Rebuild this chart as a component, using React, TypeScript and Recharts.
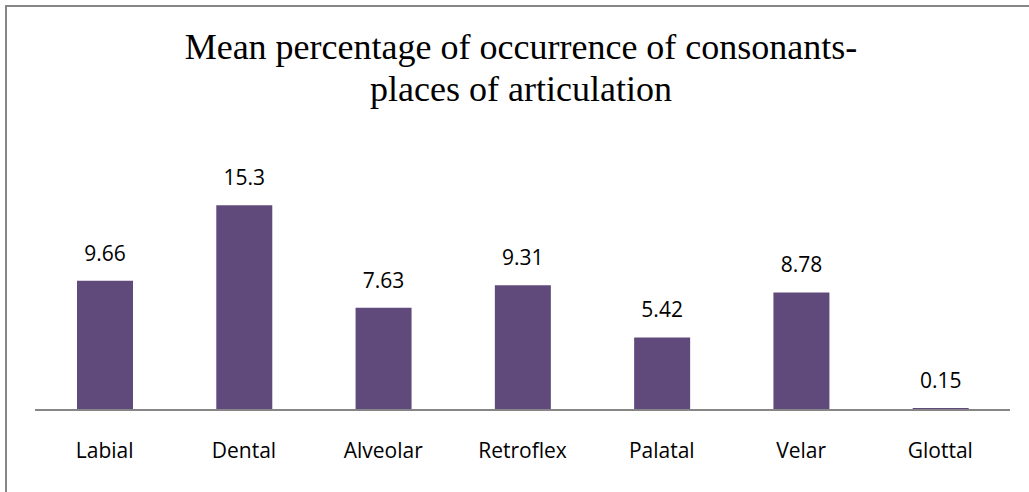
import React from "react";
import { BarChart, Bar, XAxis, YAxis, LabelList } from "recharts";

const categories = ["Labial", "Dental", "Alveolar", "Retroflex", "Palatal", "Velar", "Glottal"];
const values = [9.66, 15.3, 7.63, 9.31, 5.42, 8.78, 0.15];
const titleLines = ["Mean percentage of occurrence of consonants-", "places of articulation"];

const data = categories.map((c, i) => ({ name: c, value: values[i] }));

const CatTick = (props: any) => {
  const { x, y, payload } = props;
  return (
    <text x={x} y={y + 40} textAnchor="middle" fontFamily="'Open Sans', sans-serif" fontSize={21} fill="#000">
      {payload.value}
    </text>
  );
};

export default function App() {
  return (
    <div style={{ position: "absolute", left: 0, top: 0, width: 1029, height: 492, overflow: "hidden", background: "#fff" }}>
      <div style={{ position: "absolute", left: 5, top: 5, width: 1100, height: 600, border: "2px solid #878787", boxSizing: "border-box" }} />
      <svg width={1029} height={492} style={{ position: "absolute", left: 0, top: 0 }}>
        <text x={521} y={59} textAnchor="middle" fontFamily="'Liberation Serif', 'Times New Roman', serif" fontSize={36} fill="#000">
          {titleLines[0]}
        </text>
        <text x={521} y={101} textAnchor="middle" fontFamily="'Liberation Serif', 'Times New Roman', serif" fontSize={36} fill="#000">
          {titleLines[1]}
        </text>
      </svg>
      <div style={{ position: "absolute", left: 0, top: 0 }}>
        <BarChart width={1029} height={492} data={data} margin={{ top: 169, right: 19, bottom: 42, left: 35 }} barSize={56}>
          <XAxis
            dataKey="name"
            height={40}
            axisLine={{ stroke: "#868686", strokeWidth: 2 }}
            tickLine={false}
            tick={<CatTick />}
            interval={0}
          />
          <YAxis hide domain={[0, 18]} width={0} />
          <Bar dataKey="value" fill="#604A7B" isAnimationActive={false}>
            <LabelList dataKey="value" position="top" offset={20} fill="#000" fontFamily="'Open Sans', sans-serif" fontSize={21} />
          </Bar>
        </BarChart>
      </div>
    </div>
  );
}
